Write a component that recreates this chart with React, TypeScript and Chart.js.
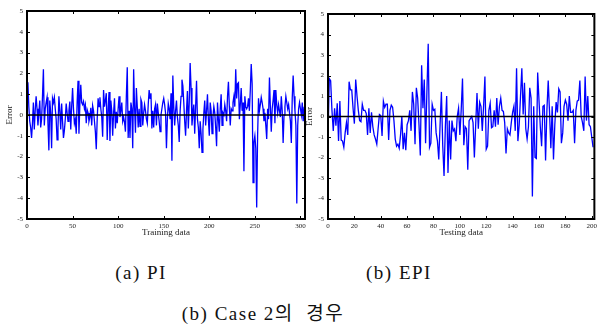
import React, { useEffect, useRef } from "react";
import { Chart, registerables } from "chart.js";

Chart.register(...registerables);

// ---- data ----
const trainError: number[] = [
  1.2, 1.57, 0.4, -0.3, -0.6, -1.1, -0.4, 0.6, -0.7, 0.2,
  0.9, 0.3, -0.5, 0.1, 0.7, -0.6, -0.2, 0.9, 2.2, -0.5,
  0.3, 0.6, 0.85, -0.4, -1.7, 0.7, 0.1, -1.6, 0.8, 0.6,
  0.85, 0.3, -0.2, -1.2, -0.6, 0.9, 0.2, -0.7, 0.55, -0.3,
  -1.1, -0.75, -0.2, 0.55, 0.1, -0.3, 0.2, 0.65, -0.7, 0.4,
  1.3, 0.3, -0.4, -0.2, -0.9, 0.6, 1.65, -0.9, 0.5, 1.45,
  0.6, 0.5, 0.65, 0.3, 0.5, -0.4, 0.25, 0.1, -0.3, -0.1,
  0.35, -0.5, 0.45, 0.2, -0.3, -0.8, -1.65, -0.2, 0.8, 0.4,
  0.85, 0.3, -0.1, -1.05, 1.2, 0.4, 0.7, 1.05, -1.2, 0.3,
  1.1, -1.25, 0.7, 0.2, -1.0, 0.1, 0.8, -0.65, 0.15, -0.4,
  0.3, 0.9, -0.1, 0.2, 0.6, -0.3, -0.1, -0.35, -0.8, 0.9,
  2.3, -1.1, 0.2, -1.1, 0.6, 0.3, -1.6, 2.2, 0.4, -0.85,
  1.3, 0.4, -0.6, 0.3, -0.55, 0.75, 0.6, -0.5, 0.1, 0.5,
  0.2, -0.2, -0.4, 0.5, 1.2, 0.8, 1.05, -0.65, 0.2, -0.6,
  0.3, 0.5, -0.5, 0.55, 0.1, -0.3, -0.8, 0.0, 0.3, 0.6,
  0.8, 0.5, 0.1, -1.6, -0.2, 0.55, 0.3, -0.2, 1.05, -2.2,
  1.9, 0.4, -0.5, 0.2, 0.7, -0.1, -0.5, -1.3, 0.2, 0.9,
  1.7, 1.4, 0.6, -0.3, -1.0, 0.2, 1.15, -0.65, 0.6, 2.5,
  1.3, -0.5, 0.1, 0.5, -0.9, 0.4, 1.65, -0.2, -0.6, -1.6,
  -0.3, -0.9, -1.8, -0.7, 0.1, 0.7, -0.5, 0.2, 1.0, -0.2,
  -1.0, 0.6, 0.2, -0.9, -0.1, 0.4, 0.1, -0.6, -1.5, 0.6,
  -0.2, -0.8, 0.3, 1.0, -0.5, 0.1, 0.0, 0.5, 0.2, -0.3,
  0.9, 1.6, 0.4, -0.5, 0.3, 0.2, 0.6, 0.9, 0.4, 2.2,
  0.8, 1.5, 1.55, -0.2, 0.5, 1.3, 0.2, 0.6, -2.7, 0.9,
  0.4, 0.3, 0.4, 0.8, 0.2, 1.2, 2.45, 1.5, -3.25, -1.3,
  -1.0, -1.6, -4.45, -1.0, 0.8, 0.2, 0.5, 0.85, 0.6, 0.3,
  -0.3, 0.1, -0.5, -1.15, 0.3, -0.2, 1.8, 0.4, -0.8, 0.3,
  0.7, 1.2, -0.4, 1.2, 0.5, 0.1, 0.5, 0.2, -0.1, 0.9,
  0.2, -1.35, 0.0, 0.4, 0.9, 0.6, 0.3, 0.5, 0.1, -0.3,
  -1.35, 0.8, 1.9, 0.9, 0.2, -0.5, -4.25, -0.5, 0.3, 0.6,
  0.3, 0.0, 0.6, -0.3, 0.4,
];

const testError: number[] = [
  -1.0, 1.85, 1.75, 0.3, -0.7, 0.4, -0.45, 0.65, -1.2, 0.75,
  -1.15, -1.2, -1.5, -0.8, -0.3, -0.9, 1.7, 1.3, 1.3, 0.4,
  -0.35, 1.8, 1.0, 0.3, -0.2, -0.25, 0.6, 0.3, 0.3, 0.15,
  -0.9, 0.4, -0.8, 0.2, -0.5, -0.9, -1.1, -1.35, -0.6, 0.1,
  0.05, -0.95, 0.75, 0.45, 0.6, 0.6, -1.15, 0.3, 0.55, 0.45,
  -0.2, -1.1, -1.45, -1.35, -1.55, -0.9, 0.0, -1.6, -0.8, -1.65,
  -0.4, -0.2, 0.3, -0.7, 1.2, 0.6, -1.35, 1.4, 0.9, -0.4,
  -1.9, 2.5, 0.4, 1.8, -1.3, 1.2, 3.55, -1.5, -1.3, 0.6,
  0.3, 0.35, -0.8, -1.2, -2.1, -0.4, 1.2, -1.4, -2.9, -0.5,
  1.0, -2.75, -0.2, -2.1, -0.2, -0.7, -0.6, -1.2, 0.0, 0.4,
  -0.9, 0.3, 1.85, -1.4, -0.5, -0.6, -2.6, -0.2, -0.1, 0.0,
  -0.3, -2.0, -0.4, 1.15, -0.6, 0.7, 0.5, -0.7, 0.5, 1.95,
  -1.6, -1.45, 0.3, 0.65, -0.55, -0.5, 0.3, -0.5, 0.9, -0.4,
  0.5, 0.9, 0.3, 0.25, -0.3, -1.8, -0.6, -0.8, -0.9, -0.3,
  0.2, 0.5, -0.7, 2.35, -1.2, -0.4, 1.0, 2.35, 0.1, 1.65,
  -0.6, -1.1, -0.5, 1.4, 0.9, -3.9, 0.5, -2.0, -2.05, 2.15,
  0.8, -0.5, -1.45, 0.5, 0.55, -2.15, 0.3, 1.75, 0.2, -1.55,
  0.5, -2.1, -0.4, 0.7, 0.2, 1.35, 1.2, -1.3, -0.8, 0.5,
  0.8, 0.6, -0.2, 1.0, 0.2, 0.2, 0.3, -1.3, 0.3, 0.75,
  0.8, 1.75, 0.0, -0.3, -0.7, 1.95, -0.2, 1.0, -0.4, -0.5,
  -1.0, -1.5,
];

const trainXMax = 305;
const testXMax = 202;
const yMin = -5;
const yMax = 5;

const captionA = "(a) PI";
const captionB = "(b) EPI";
const captionMain = "(b) Case 2의  경우";

// ---- frame plugin: box + inward ticks on all four sides ----
const framePlugin = {
  id: "matlabFrame",
  afterDatasetsDraw(chart: any) {
    const { ctx, chartArea } = chart;
    const xs = chart.scales.x;
    const ys = chart.scales.y;
    const { left, right, top, bottom } = chartArea;
    ctx.save();
    ctx.strokeStyle = "#000";
    ctx.lineWidth = 1;
    const tl = 3;
    ctx.beginPath();
    xs.ticks.forEach((t: any) => {
      const px = Math.round(xs.getPixelForValue(t.value)) + 0.5;
      ctx.moveTo(px, bottom);
      ctx.lineTo(px, bottom - tl);
      ctx.moveTo(px, top);
      ctx.lineTo(px, top + tl);
    });
    ys.ticks.forEach((t: any) => {
      const py = Math.round(ys.getPixelForValue(t.value)) + 0.5;
      ctx.moveTo(left, py);
      ctx.lineTo(left + tl, py);
      ctx.moveTo(right, py);
      ctx.lineTo(right - tl, py);
    });
    ctx.stroke();
    ctx.lineWidth = 2;
    ctx.strokeRect(left, top, right - left, bottom - top);
    ctx.restore();
  },
};

type PanelProps = {
  values: number[];
  xMax: number;
  step: number;
  xTitle: string;
  width: number;
  height: number;
  yAxisWidth: number;
  padTop: number;
  padRight: number;
};

function ErrorPanel(props: PanelProps) {
  const ref = useRef<HTMLCanvasElement | null>(null);
  useEffect(() => {
    if (!ref.current) return;
    const tickFont = { family: "'Liberation Serif', serif", size: 7 };
    const titleFont = { family: "'Liberation Serif', serif", size: 9 };
    const pts = props.values.map((v, i) => ({ x: i, y: v }));
    const zero = [
      { x: 0, y: 0 },
      { x: props.xMax, y: 0 },
    ];
    const chart = new Chart(ref.current, {
      type: "line",
      data: {
        datasets: [
          {
            data: zero,
            borderColor: "#000",
            borderWidth: 1.5,
            pointRadius: 0,
            order: 0,
          },
          {
            data: pts,
            borderColor: "#0000ff",
            borderWidth: 1.3,
            pointRadius: 0,
            tension: 0,
            order: 1,
          },
        ],
      },
      options: {
        animation: false,
        responsive: false,
        devicePixelRatio: 1,
        layout: {
          padding: { top: props.padTop, right: props.padRight, bottom: 0, left: 0 },
        },
        plugins: {
          legend: { display: false },
          tooltip: { enabled: false },
        },
        scales: {
          x: {
            type: "linear",
            min: 0,
            max: props.xMax,
            grid: { display: false, drawTicks: false },
            border: { display: false },
            ticks: {
              stepSize: props.step,
              includeBounds: false,
              font: tickFont,
              color: "#222",
              padding: 3,
              maxRotation: 0,
            },
            title: {
              display: true,
              text: props.xTitle,
              font: titleFont,
              color: "#222",
              padding: { top: 0, bottom: 2 },
            },
            afterFit: (s: any) => {
              s.height = 21;
            },
          },
          y: {
            type: "linear",
            min: yMin,
            max: yMax,
            grid: { display: false, drawTicks: false },
            border: { display: false },
            ticks: {
              stepSize: 1,
              font: tickFont,
              color: "#222",
              padding: 4,
            },
            title: {
              display: true,
              text: "Error",
              font: titleFont,
              color: "#222",
              padding: { top: 4, bottom: 0 },
            },
            afterFit: (s: any) => {
              s.width = props.yAxisWidth;
            },
          },
        },
      },
      plugins: [framePlugin],
    });
    return () => chart.destroy();
  }, []);
  return <canvas ref={ref} width={props.width} height={props.height} style={{ display: "block", width: props.width, height: props.height }} />;
}

const captionStyle: React.CSSProperties = {
  position: "absolute",
  transform: "translate(-50%, -50%)",
  fontFamily: "'Liberation Serif', 'Noto Sans CJK KR', serif",
  fontSize: 19,
  letterSpacing: 1.5,
  color: "#111",
  whiteSpace: "pre",
  lineHeight: 1,
};

export default function App() {
  return (
    <div style={{ position: "absolute", left: 0, top: 0, width: 600, height: 327, background: "#fff", overflow: "hidden" }}>
      <div style={{ position: "absolute", left: 0, top: 0 }}>
        <ErrorPanel values={trainError} xMax={trainXMax} step={50} xTitle="Training data" width={310} height={240} yAxisWidth={27} padTop={11} padRight={5} />
      </div>
      <div style={{ position: "absolute", left: 300, top: 0 }}>
        <ErrorPanel values={testError} xMax={testXMax} step={20} xTitle="Testing data" width={300} height={240} yAxisWidth={28} padTop={14} padRight={2} />
      </div>
      <div style={{ ...captionStyle, left: 141, top: 272 }}>{captionA}</div>
      <div style={{ ...captionStyle, left: 399, top: 272 }}>{captionB}</div>
      <div style={{ ...captionStyle, left: 263, top: 313 }}>{captionMain}</div>
    </div>
  );
}
